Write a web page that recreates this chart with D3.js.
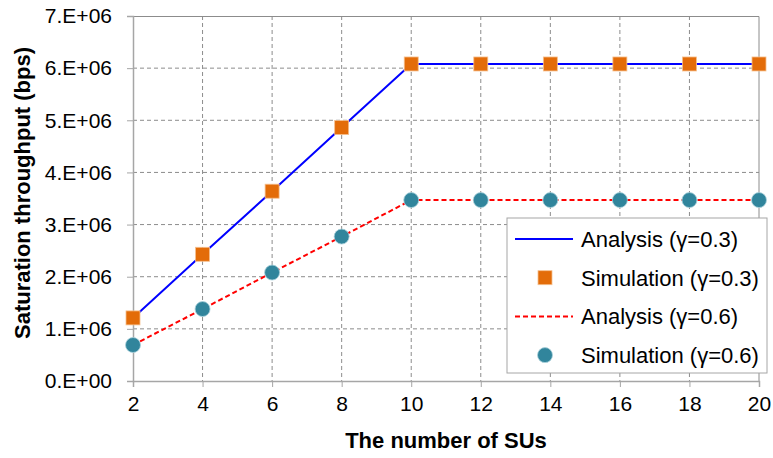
<!DOCTYPE html>
<html>
<head>
<meta charset="utf-8">
<script src="https://cdn.jsdelivr.net/npm/d3@7"></script>
<style>
  body { margin: 0; background: #fff; }
  text { font-family: Arial, "Liberation Sans", sans-serif; fill: #000; }
</style>
</head>
<body>
<div class="chart"></div>
<script>
// data
const nodes = [2, 4, 6, 8, 10, 12, 14, 16, 18, 20];
const analysis03 = [1.21e6, 2.43e6, 3.64e6, 4.86e6, 6.08e6, 6.08e6, 6.08e6, 6.08e6, 6.08e6, 6.08e6];
const simulation03 = [1.21e6, 2.43e6, 3.64e6, 4.86e6, 6.08e6, 6.08e6, 6.08e6, 6.08e6, 6.08e6, 6.08e6];
const analysis06 = [0.69e6, 1.38e6, 2.08e6, 2.77e6, 3.47e6, 3.47e6, 3.47e6, 3.47e6, 3.47e6, 3.47e6];
const simulation06 = [0.69e6, 1.38e6, 2.08e6, 2.77e6, 3.47e6, 3.47e6, 3.47e6, 3.47e6, 3.47e6, 3.47e6];
const yTicks = [0, 1e6, 2e6, 3e6, 4e6, 5e6, 6e6, 7e6];
const yTickLabels = ["0.E+00", "1.E+06", "2.E+06", "3.E+06", "4.E+06", "5.E+06", "6.E+06", "7.E+06"];
const legendLabels = ["Analysis (\u03b3=0.3)", "Simulation (\u03b3=0.3)", "Analysis (\u03b3=0.6)", "Simulation (\u03b3=0.6)"];

const margin = ({top: 16, right: 14, bottom: 77, left: 133});
const width = 773 - margin.left - margin.right;
const height = 458 - margin.top - margin.bottom;

const svg = d3.select('.chart')
    .append('svg')
    .attr('width', 773)
    .attr('height', 458)
    .append("g")
    .attr("transform", "translate(" + margin.left + "," + margin.top + ")");

const xScale = d3.scaleLinear().domain([2, 20]).range([0, width]);
const yScale = d3.scaleLinear().domain([0, 7e6]).range([height, 0]);

// grid
svg.append("g")
    .selectAll("line")
    .data(nodes.slice(1, -1))
    .enter()
    .append("line")
    .attr("x1", d => xScale(d)).attr("x2", d => xScale(d))
    .attr("y1", 0).attr("y2", height)
    .attr("stroke", "#8c8c8c")
    .attr("stroke-dasharray", "4,3");

svg.append("g")
    .selectAll("line")
    .data(yTicks.slice(1, -1))
    .enter()
    .append("line")
    .attr("x1", 0).attr("x2", width)
    .attr("y1", d => yScale(d)).attr("y2", d => yScale(d))
    .attr("stroke", "#8c8c8c")
    .attr("stroke-dasharray", "4,3");

// plot border top/right
svg.append("path")
    .attr("d", `M0,0.5H${width}V${height}`)
    .attr("fill", "none")
    .attr("stroke", "#8c8c8c");

const xAxis = d3.axisBottom(xScale).tickValues(nodes).tickSize(6).tickPadding(4);
const gx = svg.append("g")
    .attr("class", "axis x-axis")
    .attr("transform", `translate(0, ${height})`)
    .call(xAxis);

const yAxis = d3.axisLeft(yScale).tickValues(yTicks).tickSize(6).tickPadding(15)
    .tickFormat((d, i) => yTickLabels[i]);
const gy = svg.append("g")
    .attr("class", "axis y-axis")
    .call(yAxis);

[gx, gy].forEach(g => {
    g.select(".domain").attr("stroke", "#a6a6a6").attr("stroke-width", 1.5);
    g.selectAll(".tick line").attr("stroke", "#a6a6a6");
    g.selectAll(".tick text").style("font-size", "21px").style("font-family", "Arial, 'Liberation Sans', sans-serif").attr("fill", "#000");
});
gx.selectAll(".tick text").attr("dy", "0.95em");

// lines
const line = d3.line().x((d, i) => xScale(nodes[i])).y(d => yScale(d));

svg.append("path")
    .datum(analysis03)
    .attr("d", line)
    .attr("fill", "none")
    .attr("stroke", "#0000ff")
    .attr("stroke-width", 2);

svg.append("path")
    .datum(analysis06)
    .attr("d", line)
    .attr("fill", "none")
    .attr("stroke", "#ff0000")
    .attr("stroke-width", 2)
    .attr("stroke-dasharray", "5,3");

// markers
svg.append("g")
    .selectAll("rect")
    .data(simulation03)
    .enter()
    .append("rect")
    .attr("x", (d, i) => xScale(nodes[i]) - 7)
    .attr("y", d => yScale(d) - 7)
    .attr("width", 14)
    .attr("height", 14)
    .attr("fill", "#e36c09")
    .attr("stroke", "#f6c08f")
    .attr("stroke-width", 0.8);

svg.append("g")
    .selectAll("circle")
    .data(simulation06)
    .enter()
    .append("circle")
    .attr("cx", (d, i) => xScale(nodes[i]))
    .attr("cy", d => yScale(d))
    .attr("r", 7.5)
    .attr("fill", "#31859c")
    .attr("stroke", "#a9d0db")
    .attr("stroke-width", 0.8);

// axis titles
svg.append("text")
    .attr("x", 446 - margin.left)
    .attr("y", 448 - margin.top)
    .attr("text-anchor", "middle")
    .style("font-size", "22px")
    .style("font-weight", "bold")
    .text("The number of SUs");

svg.append("text")
    .attr("transform", `translate(${30 - margin.left}, ${193 - margin.top}) rotate(-90)`)
    .attr("text-anchor", "middle")
    .style("font-size", "22px")
    .style("font-weight", "bold")
    .text("Saturation throughput (bps)");

// legend
const legend = svg.append("g").attr("transform", `translate(${507 - margin.left}, ${218 - margin.top})`);
legend.append("rect")
    .attr("width", 260).attr("height", 155)
    .attr("fill", "#fff")
    .attr("stroke", "#a6a6a6");

const rowY = i => 21 + i * 38.7;
legend.append("line").attr("x1", 8).attr("x2", 66).attr("y1", rowY(0)).attr("y2", rowY(0))
    .attr("stroke", "#0000ff").attr("stroke-width", 2);
legend.append("rect").attr("x", 31).attr("y", rowY(1) - 7).attr("width", 14).attr("height", 14)
    .attr("fill", "#e36c09").attr("stroke", "#f6c08f").attr("stroke-width", 0.8);
legend.append("line").attr("x1", 8).attr("x2", 66).attr("y1", rowY(2)).attr("y2", rowY(2))
    .attr("stroke", "#ff0000").attr("stroke-width", 2).attr("stroke-dasharray", "5,3");
legend.append("circle").attr("cx", 38).attr("cy", rowY(3)).attr("r", 7.5)
    .attr("fill", "#31859c").attr("stroke", "#a9d0db").attr("stroke-width", 0.8);

legend.selectAll("text.lbl")
    .data(legendLabels)
    .enter()
    .append("text")
    .attr("class", "lbl")
    .attr("x", 74)
    .attr("y", (d, i) => rowY(i))
    .attr("dy", "0.36em")
    .style("font-size", "22px")
    .text(d => d);
</script>
</body>
</html>
